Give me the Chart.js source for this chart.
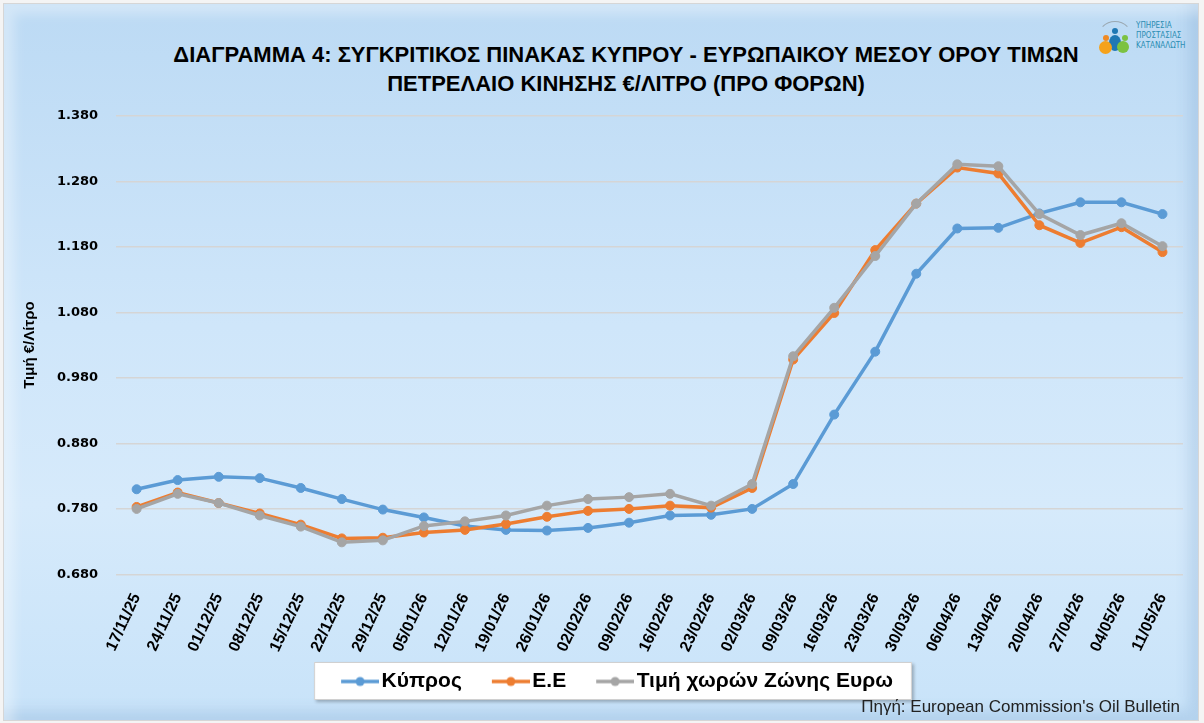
<!DOCTYPE html>
<html lang="el">
<head>
<meta charset="utf-8">
<title>Διάγραμμα 4</title>
<script src="https://cdn.jsdelivr.net/npm/chart.js@4.4.1/dist/chart.umd.min.js"></script>
<style>
  html, body { margin: 0; padding: 0; }
  body { width: 1204px; height: 723px; overflow: hidden; background: #f4f4f4; position: relative; }
  #frame {
    position: absolute; left: 3px; top: 3px; width: 1194px; height: 716px;
    border: 1px solid #d6d6d6;
    background: linear-gradient(to bottom, #bcdaf4 0%, #cfe6fa 45%, #d6eafb 70%, #c8e3f9 100%);
    box-shadow: inset 10px 10px 12px rgba(255,255,255,0.35), inset -10px -10px 12px rgba(120,160,205,0.25);
  }
  #title {
    position: absolute; left: 0; top: 40px; width: 1252px; text-align: center;
    font: bold 22px 'Liberation Sans', Arial, sans-serif; line-height: 29px; color: #000;
  }
  #chart-box { position: absolute; left: 0; top: 90px; width: 1204px; height: 622px; }
  #source {
    position: absolute; right: 24px; top: 697px;
    font: 17px 'Liberation Sans', Arial, sans-serif; color: #222;
  }
  #logo { position: absolute; left: 1095px; top: 18px; width: 95px; height: 36px; }
  #logo .txt {
    position: absolute; left: 41px; top: 3px;
    font: 8px 'DejaVu Sans Condensed', 'Liberation Sans', sans-serif; line-height: 10px; color: #2a8db3;
  }
  #logo .dot { position: absolute; border-radius: 50%; }
  #logo .arc { position: absolute; left: 2px; top: 3px; width: 34px; height: 34px; border-radius: 50%;
    border-top: 1px solid #9aa7b0; border-left: 1px solid transparent; border-right: 1px solid transparent; border-bottom: 1px solid transparent; }
</style>
</head>
<body>
<div id="frame"></div>
<div id="title">ΔΙΑΓΡΑΜΜΑ 4: ΣΥΓΚΡΙΤΙΚΟΣ ΠΙΝΑΚΑΣ ΚΥΠΡΟΥ - ΕΥΡΩΠΑΙΚΟΥ ΜΕΣΟΥ ΟΡΟΥ ΤΙΜΩΝ<br>ΠΕΤΡΕΛΑΙΟ ΚΙΝΗΣΗΣ €/ΛΙΤΡΟ (ΠΡΟ ΦΟΡΩΝ)</div>
<div id="logo">
  <div class="arc"></div>
  <div class="dot" style="left:17px;top:10px;width:6px;height:6px;background:#1f78b4"></div>
  <div class="dot" style="left:8px;top:17px;width:6px;height:6px;background:#f08a24"></div>
  <div class="dot" style="left:27px;top:17px;width:6px;height:6px;background:#7cc242"></div>
  <div class="dot" style="left:14px;top:17px;width:12px;height:16px;background:#1f78b4"></div>
  <div class="dot" style="left:4px;top:23px;width:13px;height:13px;background:#f5a21b"></div>
  <div class="dot" style="left:22px;top:23px;width:12px;height:12px;background:#7cc242"></div>
  <div class="txt">ΥΠΗΡΕΣΙΑ<br>ΠΡΟΣΤΑΣΙΑΣ<br>ΚΑΤΑΝΑΛΩΤΗ</div>
</div>
<div id="chart-box"><canvas id="chart"></canvas></div>
<div id="source">Πηγή: European Commission's Oil Bulletin</div>

<script>
const weeks = ['17/11/25', '24/11/25', '01/12/25', '08/12/25', '15/12/25', '22/12/25', '29/12/25',
  '05/01/26', '12/01/26', '19/01/26', '26/01/26', '02/02/26', '09/02/26', '16/02/26', '23/02/26',
  '02/03/26', '09/03/26', '16/03/26', '23/03/26', '30/03/26', '06/04/26', '13/04/26', '20/04/26',
  '27/04/26', '04/05/26', '11/05/26'];

// Κύπρος
const cyprus = [0.810, 0.824, 0.829, 0.827, 0.812, 0.795, 0.779, 0.767, 0.754, 0.748, 0.747, 0.751, 0.759,
  0.770, 0.771, 0.780, 0.818, 0.924, 1.020, 1.139, 1.208, 1.209, 1.231, 1.248, 1.248, 1.230];
// Ε.Ε
const eu = [0.783, 0.805, 0.789, 0.773, 0.756, 0.735, 0.736, 0.744, 0.748, 0.757, 0.768, 0.777, 0.780,
  0.785, 0.782, 0.812, 1.008, 1.079, 1.175, 1.246, 1.301, 1.292, 1.213, 1.186, 1.210, 1.172];
// Τιμή χωρών Ζώνης Ευρω
const eurozone = [0.780, 0.803, 0.789, 0.770, 0.753, 0.729, 0.732, 0.754, 0.761, 0.770, 0.785, 0.795, 0.798,
  0.803, 0.785, 0.818, 1.013, 1.087, 1.166, 1.246, 1.306, 1.303, 1.230, 1.198, 1.216, 1.181];

const yMin = 0.68;
const yMax = 1.38;
const yStep = 0.1;

const blue = '#5b9bd5';
const orange = '#ed7d31';
const grey = '#a5a5a5';

Chart.defaults.font.family = "'Liberation Sans', Arial, sans-serif";
Chart.defaults.color = '#000';

/**
 * Line-with-dot legend marker. Legend padding is 0, so the marker itself
 * carries the empty space that separates it from the previous item.
 */
function legendMarker(color) {
  const c = document.createElement('canvas');
  c.width = 76;
  c.height = 12;
  const g = c.getContext('2d');
  g.strokeStyle = color;
  g.lineWidth = 3.5;
  g.beginPath();
  g.moveTo(38, 6);
  g.lineTo(76, 6);
  g.stroke();
  g.fillStyle = color;
  g.beginPath();
  g.arc(57, 6, 4.5, 0, Math.PI * 2);
  g.fill();
  return c;
}

// white box behind the legend items
const legendBox = {
  id: 'legendBox',
  beforeDraw(chart) {
    const boxes = chart.legend && chart.legend.legendHitBoxes;
    if (!boxes || !boxes.length) return;
    const left = Math.min(...boxes.map(b => b.left)) + 3;
    const right = Math.max(...boxes.map(b => b.left + b.width)) + 19;
    const top = boxes[0].top - 9;
    const bottom = boxes[0].top + boxes[0].height + 8;
    const ctx = chart.ctx;
    ctx.save();
    ctx.shadowColor = 'rgba(0,0,0,0.25)';
    ctx.shadowOffsetX = 2;
    ctx.shadowOffsetY = 2;
    ctx.shadowBlur = 3;
    ctx.fillStyle = '#fff';
    ctx.fillRect(left, top, right - left, bottom - top);
    ctx.restore();
    ctx.save();
    ctx.strokeStyle = '#d0d0d0';
    ctx.lineWidth = 1;
    ctx.strokeRect(left + 0.5, top + 0.5, right - left - 1, bottom - top - 1);
    ctx.restore();
  }
};

const series = [
  {label: 'Κύπρος', data: cyprus, color: blue, order: 3},
  {label: 'Ε.Ε', data: eu, color: orange, order: 2},
  {label: 'Τιμή χωρών Ζώνης Ευρω', data: eurozone, color: grey, order: 1}
];

new Chart(document.getElementById('chart'), {
  type: 'line',
  plugins: [legendBox],
  data: {
    labels: weeks,
    datasets: series.map(s => ({
      label: s.label,
      data: s.data,
      order: s.order,
      borderColor: s.color,
      backgroundColor: s.color,
      pointBackgroundColor: s.color,
      pointBorderColor: s.color,
      borderWidth: 3.5,
      pointRadius: 4.5,
      pointBorderWidth: 1,
      tension: 0,
      fill: false
    }))
  },
  options: {
    responsive: true,
    maintainAspectRatio: false,
    animation: false,
    layout: {padding: {left: 21, right: 21, top: 4, bottom: 10}},
    plugins: {
      tooltip: {enabled: false},
      title: {display: false},
      legend: {
        position: 'bottom',
        labels: {
          usePointStyle: true,
          pointStyleWidth: 60,
          padding: 0,
          font: {size: 21, weight: 'bold'},
          color: '#000',
          generateLabels(chart) {
            return chart.data.datasets.map((ds, i) => ({
              text: ds.label,
              datasetIndex: i,
              pointStyle: legendMarker(ds.borderColor),
              fillStyle: ds.borderColor,
              strokeStyle: ds.borderColor,
              lineWidth: 0,
              hidden: false,
              fontColor: '#000'
            }));
          }
        }
      }
    },
    scales: {
      x: {
        offset: true,
        grid: {display: false, drawTicks: false},
        border: {display: false},
        ticks: {
          autoSkip: false,
          minRotation: 65,
          maxRotation: 65,
          padding: 16,
          font: {size: 16, weight: 'bold'},
          color: '#000'
        }
      },
      y: {
        min: yMin,
        max: yMax,
        grid: {color: '#d5d5d5', lineWidth: 1.5, drawTicks: false},
        border: {display: false},
        ticks: {
          stepSize: yStep,
          padding: 18,
          font: {family: "'DejaVu Sans', sans-serif", size: 13, weight: 'bold'},
          color: '#000',
          callback: v => v.toFixed(3)
        },
        title: {
          display: true,
          text: 'Τιμή €/Λίτρο',
          font: {size: 15, weight: 'bold'},
          color: '#000',
          padding: {top: 0, bottom: 0}
        }
      }
    }
  }
});
</script>
</body>
</html>
